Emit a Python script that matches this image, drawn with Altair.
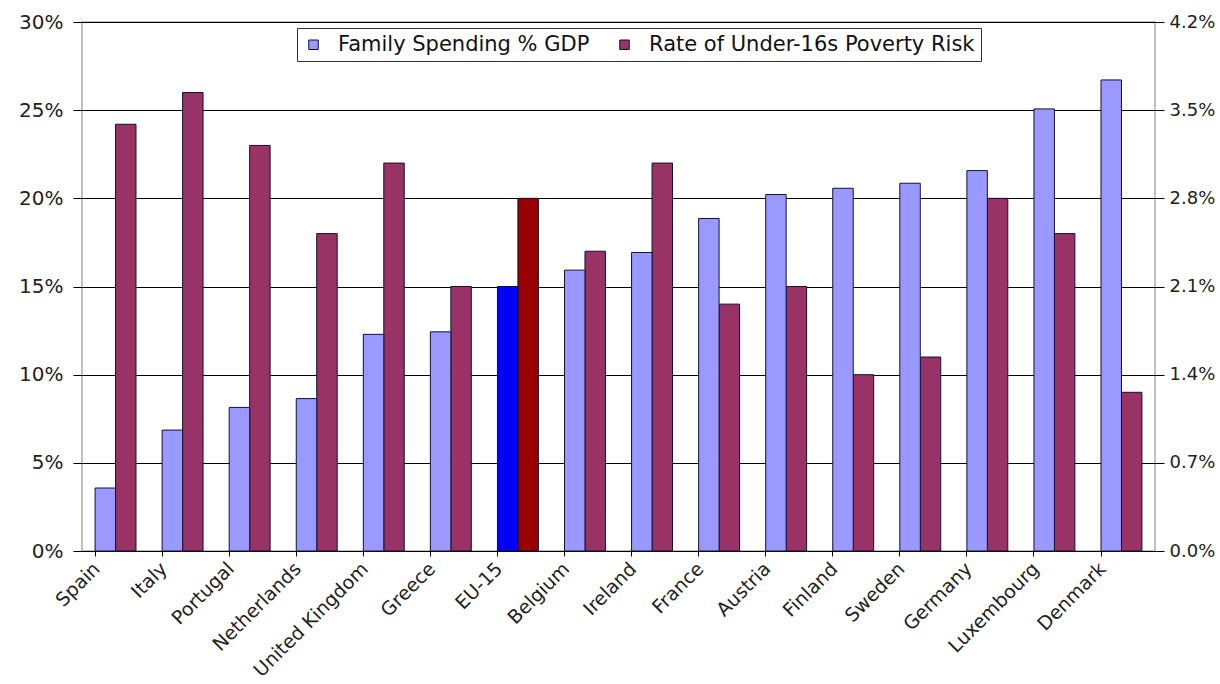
import altair as alt
import pandas as pd

countries = ["Spain", "Italy", "Portugal", "Netherlands", "United Kingdom", "Greece",
             "EU-15", "Belgium", "Ireland", "France", "Austria", "Finland", "Sweden",
             "Germany", "Luxembourg", "Denmark"]
# Family spending as % of GDP (right axis, 0-4.2%)
family_spending = [0.50, 0.96, 1.14, 1.21, 1.72, 1.74, 2.10, 2.23, 2.37, 2.64, 2.83,
                   2.88, 2.92, 3.02, 3.51, 3.74]
# Rate of under-16s poverty risk (left axis, 0-30%)
poverty_rate = [24.2, 26.0, 23.0, 18.0, 22.0, 15.0, 20.0, 17.0, 22.0, 14.0, 15.0,
                10.0, 11.0, 20.0, 18.0, 9.0]

left_ticks = [0, 5, 10, 15, 20, 25, 30]
right_ticks = [0.0, 0.7, 1.4, 2.1, 2.8, 3.5, 4.2]

S1 = "Family Spending % GDP"
S2 = "Rate of Under-16s Poverty Risk"
series = [S1, S2]
colors = ["#9999FF", "#993366"]
highlight = "EU-15"

df1 = pd.DataFrame({"country": countries, "value": family_spending, "series": S1})
df2 = pd.DataFrame({"country": countries, "value": poverty_rate, "series": S2})

FONT = "DejaVu Sans"

x_enc = alt.X(
    "country:N", sort=countries,
    scale=alt.Scale(paddingInner=0.39, paddingOuter=0.195),
    axis=alt.Axis(title=None, labelAngle=-45, bandPosition=0, labelOffset=-25,
                  labelAlign="right", labelBaseline="top", labelPadding=3,
                  labelFontSize=19, labelColor="#222222", labelFont=FONT,
                  labelOverlap=False, labelLimit=300, tickSize=5, tickColor="black",
                  domainColor="black", domainWidth=1.2, grid=False),
)
xoff = alt.XOffset("series:N", scale=alt.Scale(domain=series))

color_scale = alt.Scale(domain=series, range=colors)
legend = alt.Legend(
    title=None, orient="none", legendX=215, legendY=6, direction="horizontal",
    columns=2, symbolType="square", symbolSize=90, symbolStrokeColor="#111133",
    symbolStrokeWidth=1, labelFontSize=21, labelFont=FONT, labelColor="#111111",
    labelOffset=14, columnPadding=24, padding=6, fillColor="white",
    strokeColor="#333333", labelLimit=400,
)

red_layer = alt.Chart(df2).mark_bar(stroke="#111133", strokeWidth=1).encode(
    x=x_enc,
    xOffset=xoff,
    y=alt.Y("value:Q", scale=alt.Scale(domain=[0, 30], nice=False),
            axis=alt.Axis(title=None, orient="left", values=left_ticks,
                          labelExpr="datum.value + '%'", labelFontSize=20,
                          labelFont=FONT, labelColor="#222222", labelPadding=10,
                          tickSize=9, tickColor="black", domain=False, grid=True,
                          gridColor="black", gridWidth=1.2, gridOpacity=1)),
    color=alt.condition(alt.datum.country == highlight, alt.value("#990000"),
                        alt.Color("series:N", scale=color_scale, legend=legend)),
)

blue_layer = alt.Chart(df1).mark_bar(stroke="#111133", strokeWidth=1).encode(
    x=x_enc,
    xOffset=xoff,
    y=alt.Y("value:Q", scale=alt.Scale(domain=[0, 4.2], nice=False),
            axis=alt.Axis(title=None, orient="right", values=right_ticks,
                          labelExpr="format(datum.value, '.1f') + '%'",
                          labelFontSize=18, labelFont=FONT, labelColor="#222222",
                          labelPadding=5, tickSize=9, tickColor="black",
                          domain=False, grid=False)),
    color=alt.condition(alt.datum.country == highlight, alt.value("#0000FF"),
                        alt.Color("series:N", scale=color_scale, legend=legend)),
)

chart = alt.layer(red_layer, blue_layer).resolve_scale(y="independent").properties(
    width=1073, height=529,
    autosize=alt.AutoSizeParams(type="none"),
    padding={"left": 82, "top": 22, "right": 65, "bottom": 133},
    background="white",
).configure_view(stroke="#aaaaaa", strokeWidth=1.5)

chart.save("out.html", embed_options={"renderer": "svg", "actions": False})
